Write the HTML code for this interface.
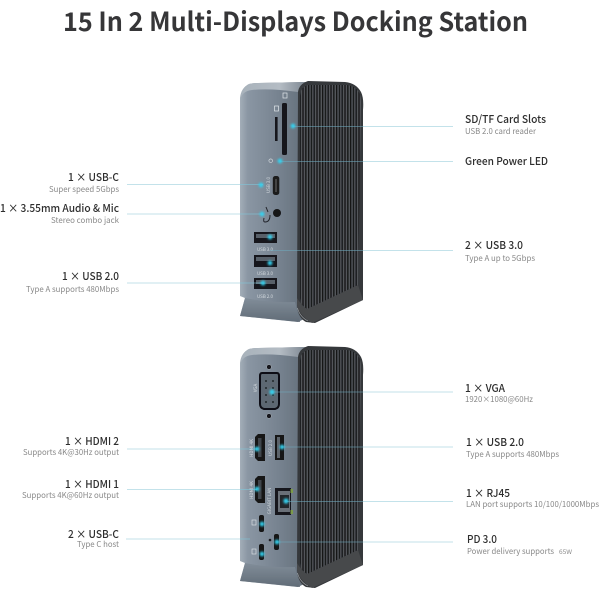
<!DOCTYPE html>
<html><head><meta charset="utf-8">
<style>
html,body{margin:0;padding:0;background:#fff;width:600px;height:600px;overflow:hidden}
svg{display:block}
text{font-family:"Liberation Sans","Noto Sans CJK SC",sans-serif}
.t,.h,.s,.p{font-family:"Noto Sans CJK SC","Liberation Sans",sans-serif}
.t{font-size:26px;font-weight:700;fill:#363638}
.h{font-size:11px;fill:#2e2e2e;font-weight:500}
.s{font-size:8px;fill:#888}
.p{font-size:4.5px;fill:#d4dadf}
</style></head><body>
<svg width="600" height="600" viewBox="0 0 600 600" xmlns="http://www.w3.org/2000/svg">
<defs>
<linearGradient id="front" x1="0" y1="0" x2="1" y2="0">
<stop offset="0" stop-color="#a3aeb8"/><stop offset=".12" stop-color="#8a96a3"/><stop offset=".6" stop-color="#76828f"/><stop offset="1" stop-color="#636e79"/>
</linearGradient>
<linearGradient id="top" x1="0" y1="0" x2="1" y2="0">
<stop offset="0" stop-color="#a8b2bb"/><stop offset=".6" stop-color="#b4bcc4"/><stop offset="1" stop-color="#7d8791"/>
</linearGradient>
<linearGradient id="foot" x1="0" y1="0" x2="0" y2="1">
<stop offset="0" stop-color="#818d99"/><stop offset="1" stop-color="#616c77"/>
</linearGradient>
<pattern id="fin" width="2.8" height="10" patternUnits="userSpaceOnUse">
<rect width="2.8" height="10" fill="#34363a"/><rect x="0" width="1.1" height="10" fill="#141517"/><rect x="1.7" width=".8" height="10" fill="#62666b"/>
</pattern>
<filter id="b" x="-5%" y="-5%" width="110%" height="110%"><feGaussianBlur stdDeviation=".22"/></filter>
<filter id="g" x="-200%" y="-200%" width="500%" height="500%"><feGaussianBlur stdDeviation="1.1"/></filter>
<g id="body">
<path d="M240 98Q241 88 249 84Q253 83 258 83L306 82L306 318L298 322L240 316L245 298L240 296Z" fill="url(#front)"/>
<path d="M240 100Q241 88 249 84Q253 83 258 83L306 82L298 92Q270 88 252 90Q242 91 240 100Z" fill="url(#top)"/>
<path d="M245 298Q270 303 295 302L300 322L240 316Z" fill="url(#foot)"/>
<path d="M298 92Q299 84 308 81L345 82Q356 83 361 92Q364 98 363 110L363 300L315 323L306 322Q298 318 297 305Z" fill="#35373a"/>
<path d="M300 96Q301 86 309 85L347 85Q361 87 361 102L358 287L307 310Q301 306 300 298Z" fill="url(#fin)"/>
<path d="M297 305Q300 316 312 323L363 300L358 285L307 309Q302 306 297 298Z" fill="#46484c"/>
<path d="M297.5 308Q300 317 308 321" fill="none" stroke="#c9ced2" stroke-width=".6" opacity=".7"/>
</g>
</defs>

<text class="t" x="63" y="31" textLength="465" lengthAdjust="spacingAndGlyphs">15 In 2 Multi-Displays Docking Station</text>

<g filter="url(#b)">
<use href="#body"/>
<use href="#body" y="265"/>
<!-- top device ports -->
<rect x="282" y="103" width="5" height="52" rx="1.5" fill="#17181a"/>
<rect x="275" y="117" width="2.6" height="24" fill="#17181a"/>
<rect x="283" y="93" width="4" height="5" fill="none" stroke="#e2e7eb" stroke-width=".7"/>
<rect x="274.5" y="106" width="4" height="5" fill="none" stroke="#e2e7eb" stroke-width=".7"/>
<circle cx="270.7" cy="160.7" r="1.8" fill="none" stroke="#e2e7eb" stroke-width=".6"/>
<rect x="272.8" y="176" width="6.5" height="19" rx="2.5" fill="#1a1b1d"/>
<rect x="275.3" y="179" width="1.4" height="13" fill="#555"/>
<circle cx="277" cy="213" r="4" fill="#141517"/>
<path d="M266 207L268 212M270 215Q270 222 265 222Q263 222 264 218" fill="none" stroke="#20242a" stroke-width="1"/>
<rect x="254" y="232" width="23" height="11" fill="#17181a"/><rect x="256" y="234" width="19" height="4" fill="#596069"/>
<rect x="254" y="255" width="23" height="12" fill="#17181a"/><rect x="256" y="257" width="19" height="4" fill="#596069"/>
<rect x="254" y="278" width="23" height="11" fill="#17181a"/><rect x="256" y="280" width="19" height="4" fill="#596069"/>
<text class="p" x="265" y="251" text-anchor="middle">USB 3.0</text>
<text class="p" x="265" y="275" text-anchor="middle">USB 3.0</text>
<text class="p" x="265" y="298" text-anchor="middle">USB 2.0</text>
<text class="p" transform="translate(270 185) rotate(-90)" text-anchor="middle">USB 3.0</text>
<!-- bottom device ports -->
<circle cx="269" cy="367" r="2.4" fill="#16181a" stroke="#aab2ba" stroke-width=".5"/>
<circle cx="269" cy="416" r="2.4" fill="#16181a" stroke="#aab2ba" stroke-width=".5"/>
<path d="M262 373H277Q279 373 279 376V404Q279 408 275 409H264Q260 408 260 404V376Q260 373 262 373Z" fill="#5d6873" stroke="#0f1012" stroke-width="2"/>
<g fill="#20262c"><circle cx="266" cy="381" r="1"/><circle cx="273" cy="381" r="1"/><circle cx="266" cy="388" r="1"/><circle cx="273" cy="388" r="1"/><circle cx="266" cy="395" r="1"/><circle cx="273" cy="395" r="1"/><circle cx="266" cy="402" r="1"/><circle cx="273" cy="402" r="1"/></g>
<text class="p" transform="translate(257 388) rotate(-90)" text-anchor="middle">VGA</text>
<path d="M255 437L258 434H265V461H258L255 458Z" fill="#141517"/>
<rect x="258" y="438" width="3.5" height="19" fill="#3f454c"/>
<path d="M255 479L258 476H265V503H258L255 500Z" fill="#141517"/>
<rect x="258" y="480" width="3.5" height="19" fill="#3f454c"/>
<rect x="275" y="435" width="9" height="25" fill="#141517"/><rect x="277" y="437" width="3" height="21" fill="#5c636b"/>
<text class="p" transform="translate(253 448) rotate(-90)" text-anchor="middle">HDMI 4K</text>
<text class="p" transform="translate(253 490) rotate(-90)" text-anchor="middle">HDMI 4K</text>
<text class="p" transform="translate(272 448) rotate(-90)" text-anchor="middle">USB 2.0</text>
<rect x="275" y="488" width="16" height="27" fill="#15161a"/>
<rect x="278" y="491" width="12" height="21" fill="#6a7078"/>
<rect x="280" y="495" width="9" height="13" fill="#24262a"/>
<rect x="290.5" y="489" width="2.5" height="4" fill="#7c9a4c"/><rect x="290.5" y="510" width="2.5" height="4" fill="#7c9a4c"/>
<text class="p" transform="translate(271 501) rotate(-90)" text-anchor="middle">GIGABIT LAN</text>
<rect x="259" y="515" width="5" height="17" rx="2" fill="#141517"/>
<rect x="259" y="544" width="5" height="16" rx="2" fill="#141517"/>
<rect x="274" y="534" width="5" height="16" rx="2" fill="#141517"/>
<rect x="252" y="520" width="4" height="5" fill="none" stroke="#e2e7eb" stroke-width=".6"/>
<rect x="252" y="549" width="4" height="5" fill="none" stroke="#e2e7eb" stroke-width=".6"/>
<circle cx="270" cy="540" r="1.3" fill="#1c1e21"/>
</g>

<!-- connectors -->
<g stroke="#c3e2ea" stroke-width="1" fill="none">
<path d="M127 184.5H240M127 214H240M127 283H240"/>
<path d="M127 449H240M127 489.5H240M126 539H240"/>
<path d="M363 126.5H453M363 161.5H453M363 250.5H453"/>
<path d="M363 392H453M363 447H453M363 501.5H453M363 542H453"/>
</g>
<g stroke="#6fa9bc" stroke-width=".8" fill="none" opacity=".75">
<path d="M293 126.5H363M280 161.5H363M270 250.5H363"/>
<path d="M272 392H363M282 447H363M287 501.5H363M277 542H363"/>
</g>
<g stroke="#7fc4d8" stroke-width=".8" fill="none" opacity=".8">
<path d="M240 184.5H263M240 214H263M240 283H262"/>
<path d="M240 449H257M240 489.5H257M240 539H250"/>
</g>
<!-- glow dots -->
<g fill="#35d0ee" filter="url(#g)">
<circle cx="293" cy="126" r="2.4"/><circle cx="280" cy="161" r="2.4"/><circle cx="261" cy="185" r="2.4"/><circle cx="262" cy="214" r="2.4"/>
<circle cx="270" cy="237" r="2.4"/><circle cx="270" cy="263" r="2.4"/><circle cx="263" cy="283" r="2.4"/>
<circle cx="272" cy="392" r="2.6"/><circle cx="257" cy="449" r="2.4"/><circle cx="282" cy="447" r="2.4"/><circle cx="257" cy="489" r="2.4"/>
<circle cx="286" cy="501" r="2.6"/><circle cx="262" cy="524" r="2.4"/><circle cx="262" cy="554" r="2.4"/><circle cx="277" cy="542" r="2.4"/>
</g>

<!-- left labels -->
<text class="h" x="68" y="181" textLength="51" lengthAdjust="spacingAndGlyphs">1 × USB-C</text>
<text class="s" x="49" y="192" textLength="70" lengthAdjust="spacingAndGlyphs">Super speed 5Gbps</text>
<text class="h" x="0" y="212" textLength="119" lengthAdjust="spacingAndGlyphs">1 × 3.55mm Audio &amp; Mic</text>
<text class="s" x="51" y="223" textLength="68" lengthAdjust="spacingAndGlyphs">Stereo combo jack</text>
<text class="h" x="62" y="280" textLength="57" lengthAdjust="spacingAndGlyphs">1 × USB 2.0</text>
<text class="s" x="26" y="292" textLength="93" lengthAdjust="spacingAndGlyphs">Type A supports 480Mbps</text>
<text class="h" x="65" y="445" textLength="54" lengthAdjust="spacingAndGlyphs">1 × HDMI 2</text>
<text class="s" x="23" y="455" textLength="96" lengthAdjust="spacingAndGlyphs">Supports 4K@30Hz output</text>
<text class="h" x="65" y="488" textLength="54" lengthAdjust="spacingAndGlyphs">1 × HDMI 1</text>
<text class="s" x="22" y="498" textLength="97" lengthAdjust="spacingAndGlyphs">Supports 4K@60Hz output</text>
<text class="h" x="68" y="538" textLength="51" lengthAdjust="spacingAndGlyphs">2 × USB-C</text>
<text class="s" x="77" y="547" textLength="42" lengthAdjust="spacingAndGlyphs">Type C host</text>

<!-- right labels -->
<text class="h" x="465" y="123" textLength="81" lengthAdjust="spacingAndGlyphs">SD/TF Card Slots</text>
<text class="s" x="465" y="134" textLength="71" lengthAdjust="spacingAndGlyphs">USB 2.0 card reader</text>
<text class="h" x="465" y="165" textLength="83" lengthAdjust="spacingAndGlyphs">Green Power LED</text>
<text class="h" x="465" y="249" textLength="58" lengthAdjust="spacingAndGlyphs">2 × USB 3.0</text>
<text class="s" x="465" y="261" textLength="70" lengthAdjust="spacingAndGlyphs">Type A up to 5Gbps</text>
<text class="h" x="465" y="392" textLength="40" lengthAdjust="spacingAndGlyphs">1 × VGA</text>
<text class="s" x="465" y="402" textLength="68" lengthAdjust="spacingAndGlyphs">1920×1080@60Hz</text>
<text class="h" x="466" y="446" textLength="58" lengthAdjust="spacingAndGlyphs">1 × USB 2.0</text>
<text class="s" x="466" y="457" textLength="93" lengthAdjust="spacingAndGlyphs">Type A supports 480Mbps</text>
<text class="h" x="466" y="497" textLength="44" lengthAdjust="spacingAndGlyphs">1 × RJ45</text>
<text class="s" x="466" y="507" textLength="133" lengthAdjust="spacingAndGlyphs">LAN port supports 10/100/1000Mbps</text>
<text class="h" x="467" y="543" textLength="30" lengthAdjust="spacingAndGlyphs">PD 3.0</text>
<text class="s" x="467" y="554" textLength="87" lengthAdjust="spacingAndGlyphs">Power delivery supports</text>
<text class="s" x="559" y="554" style="font-size:6px" textLength="13" lengthAdjust="spacingAndGlyphs">65W</text>
</svg>
</body></html>
